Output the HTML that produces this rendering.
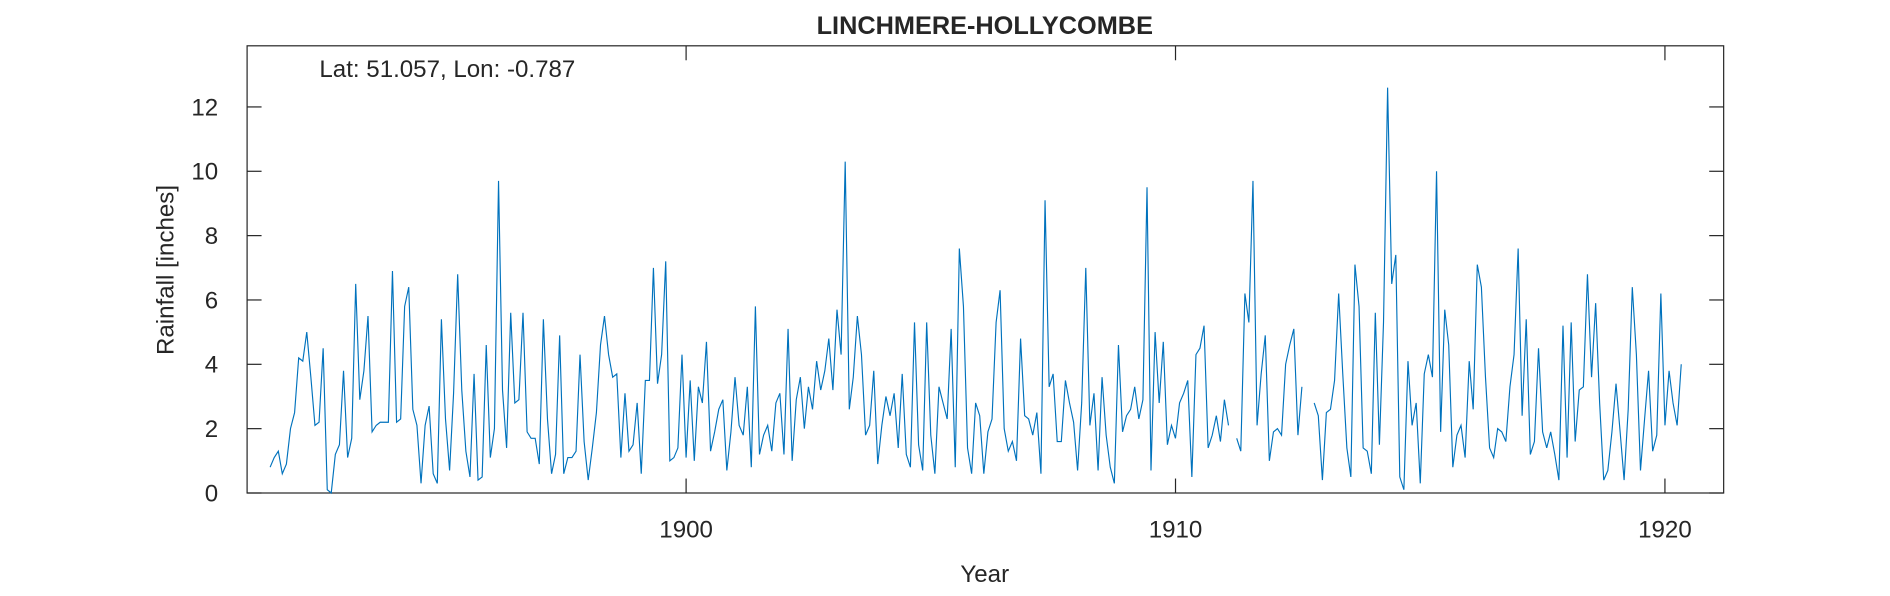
<!DOCTYPE html>
<html><head><meta charset="utf-8"><style>
body{margin:0;background:#fff;}
svg text{font-family:"Liberation Sans",sans-serif;fill:#262626;}
</style></head><body>
<svg id="chart" width="1890" height="591" viewBox="0 0 1568 490.3">
<rect x="0" y="0" width="1568" height="490.3" fill="#fff"/>
<g id="axes"></g>
<path id="line" fill="none" stroke="#0072BD" stroke-width="0.95"/>
<text x="817" y="28" font-size="21" font-weight="bold" text-anchor="middle">LINCHMERE-HOLLYCOMBE</text>
<text x="265" y="64" font-size="20">Lat: 51.057, Lon: -0.787</text>
<text x="817" y="483" font-size="20" text-anchor="middle">Year</text>
<text x="0" y="0" font-size="20" text-anchor="middle" transform="translate(144,224) rotate(-90)">Rainfall [inches]</text>
</svg>
<script>
const startYear = 1891;
const startMonth = 6; // July (0-based)
const rainfall = [
0.8,1.1,1.3,0.6,0.9,2.0,
2.5,4.2,4.1,5.0,3.6,2.1,2.2,4.5,0.1,0.0,1.2,1.5,
3.8,1.1,1.7,6.5,2.9,3.8,5.5,1.9,2.1,2.2,2.2,2.2,
6.9,2.2,2.3,5.8,6.4,2.6,2.1,0.3,2.1,2.7,0.6,0.3,
5.4,2.3,0.7,3.1,6.8,3.2,1.3,0.5,3.7,0.4,0.5,4.6,
1.1,2.0,9.7,3.2,1.4,5.6,2.8,2.9,5.6,1.9,1.7,1.7,
0.9,5.4,2.3,0.6,1.2,4.9,0.6,1.1,1.1,1.3,4.3,1.6,
0.4,1.4,2.5,4.6,5.5,4.3,3.6,3.7,1.1,3.1,1.3,1.5,
2.8,0.6,3.5,3.5,7.0,3.4,4.3,7.2,1.0,1.1,1.4,4.3,
1.1,3.5,1.0,3.3,2.8,4.7,1.3,1.9,2.6,2.9,0.7,1.9,
3.6,2.1,1.8,3.3,0.8,5.8,1.2,1.8,2.1,1.3,2.8,3.1,
1.2,5.1,1.0,2.9,3.6,2.0,3.3,2.6,4.1,3.2,3.8,4.8,
3.2,5.7,4.3,10.3,2.6,3.6,5.5,4.3,1.8,2.1,3.8,0.9,
2.1,3.0,2.4,3.1,1.4,3.7,1.2,0.8,5.3,1.5,0.7,5.3,
1.8,0.6,3.3,2.8,2.3,5.1,0.8,7.6,5.8,1.4,0.6,2.8,
2.4,0.6,1.9,2.3,5.3,6.3,2.0,1.3,1.6,1.0,4.8,2.4,
2.3,1.8,2.5,0.6,9.1,3.3,3.7,1.6,1.6,3.5,2.8,2.2,
0.7,2.8,7.0,2.1,3.1,0.7,3.6,1.8,0.8,0.3,4.6,1.9,
2.4,2.6,3.3,2.3,2.9,9.5,0.7,5.0,2.8,4.7,1.5,2.1,
1.7,2.8,3.1,3.5,0.5,4.3,4.5,5.2,1.4,1.8,2.4,1.6,
2.9,2.1,null,1.7,1.3,6.2,5.3,9.7,2.1,3.7,4.9,1.0,
1.9,2.0,1.8,4.0,4.6,5.1,1.8,3.3,null,null,
2.8,2.4,0.4,2.5,2.6,3.5,6.2,3.7,1.4,0.5,7.1,5.8,1.4,1.3,
0.6,5.6,1.5,5.3,12.6,6.5,7.4,0.5,0.1,4.1,2.1,2.8,
0.3,3.7,4.3,3.6,10.0,1.9,5.7,4.6,0.8,1.8,2.1,1.1,
4.1,2.6,7.1,6.4,3.6,1.4,1.1,2.0,1.9,1.6,3.3,4.3,
7.6,2.4,5.4,1.2,1.6,4.5,1.9,1.4,1.9,1.2,0.4,5.2,
1.1,5.3,1.6,3.2,3.3,6.8,3.6,5.9,2.8,0.4,0.7,1.9,
3.4,1.9,0.4,2.6,6.4,4.3,0.7,2.3,3.8,1.3,1.8,6.2,
2.1,3.8,2.8,2.1,4.0
];
const yTicks = [0,2,4,6,8,10,12];
const xTicks = [1900,1910,1920];

const L=205,R=1430,T=38,B=409;
const xDom=[1891.03,1921.2], yDom=[0,13.9];
const sx=v=>L+(v-xDom[0])/(xDom[1]-xDom[0])*(R-L);
const sy=v=>B-(v-yDom[0])/(yDom[1]-yDom[0])*(B-T);
const NS='http://www.w3.org/2000/svg';
const axes=document.getElementById('axes');
function mk(tag,attrs){const e=document.createElementNS(NS,tag);for(const k in attrs)e.setAttribute(k,attrs[k]);axes.appendChild(e);return e;}
const box=mk('rect',{x:L,y:T,width:R-L,height:B-T,fill:'none',stroke:'#262626','stroke-width':1});


yTicks.forEach(v=>{
  const y=sy(v);
  const t1=mk('line',{x1:L,x2:L+12,y1:y,y2:y,stroke:'#262626'});
  
  
  const t2=mk('line',{x1:R-12,x2:R,y1:y,y2:y,stroke:'#262626'});
  
  
  const tx=mk('text',{x:L-24,y:y+7,'font-size':20,'text-anchor':'end'});
  tx.textContent=v;
  
  
});
xTicks.forEach(v=>{
  const x=sx(v);
  const t1=mk('line',{x1:x,x2:x,y1:B,y2:B-12,stroke:'#262626'});
  
  
  const t2=mk('line',{x1:x,x2:x,y1:T,y2:T+12,stroke:'#262626'});
  
  
  const tx=mk('text',{x:x,y:B+37,'font-size':20,'text-anchor':'middle'});
  tx.textContent=v;
  
  
});
let d='',pen=false;
rainfall.forEach((v,i)=>{
  if(v===null){pen=false;return;}
  const t=startYear+(startMonth+i)/12;
  d+=(pen?'L':'M')+sx(t).toFixed(1)+' '+sy(v).toFixed(1);
  pen=true;
});
document.getElementById('line').setAttribute('d',d);
</script>
</body></html>
